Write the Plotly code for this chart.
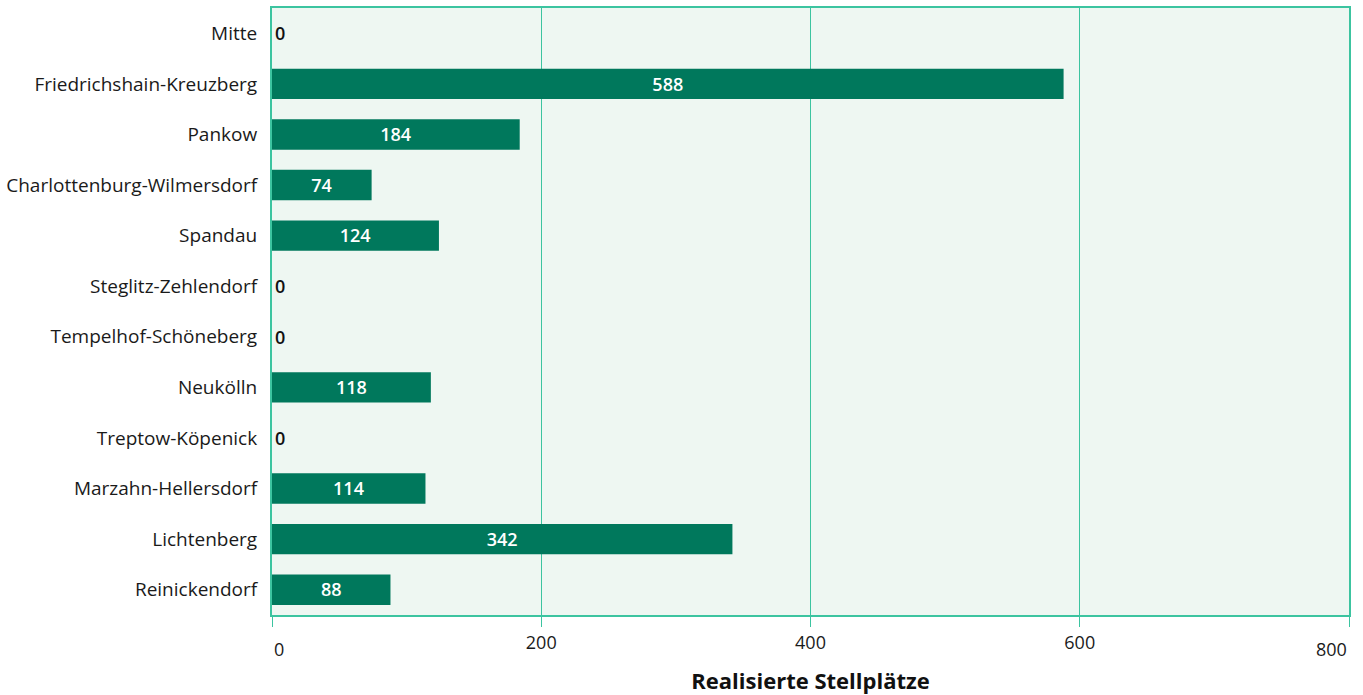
import plotly.graph_objects as go

bezirke = [
    "Mitte", "Friedrichshain-Kreuzberg", "Pankow", "Charlottenburg-Wilmersdorf",
    "Spandau", "Steglitz-Zehlendorf", "Tempelhof-Schöneberg", "Neukölln",
    "Treptow-Köpenick", "Marzahn-Hellersdorf", "Lichtenberg", "Reinickendorf",
]
stellplaetze = [0, 588, 184, 74, 124, 0, 0, 118, 0, 114, 342, 88]
x_ticks = [0, 200, 400, 600, 800]

FONT = "Open Sans"
BAR = "#00785c"
LINE = "#3cc4a0"
TEXT = "#1a1a1a"

positions = ["inside" if v > 0 else "outside" for v in stellplaetze]

fig = go.Figure(go.Bar(
    x=stellplaetze,
    y=bezirke,
    orientation="h",
    marker=dict(color=BAR, line=dict(width=0)),
    width=0.6,
    text=[str(v) for v in stellplaetze],
    textposition=positions,
    insidetextanchor="middle",
    textangle=0,
    cliponaxis=False,
    insidetextfont=dict(family=FONT, size=20, color="white", weight=600),
    outsidetextfont=dict(family=FONT, size=20, color="#111111", weight=600),
))

# inner tick labels are centred; the two end labels sit flush with the frame
fig.update_xaxes(
    range=[0, 800],
    automargin=False,
    tickvals=x_ticks,
    ticktext=["" if t in (x_ticks[0], x_ticks[-1]) else str(t) for t in x_ticks],
    showgrid=True, gridcolor=LINE, gridwidth=1,
    zeroline=False,
    showline=True, linecolor=LINE, linewidth=2, mirror=True,
    ticks="outside", ticklen=10, tickcolor=LINE, tickwidth=1,
    tickfont=dict(family=FONT, size=18, color=TEXT),
    title=dict(text="<b>Realisierte Stellplätze</b>",
               font=dict(family=FONT, size=22, color="#111111"), standoff=25),
)
for t, anchor in ((x_ticks[0], "left"), (x_ticks[-1], "right")):
    fig.add_annotation(
        x=t, xref="x", y=0, yref="paper", yshift=-34,
        text=str(t), showarrow=False, xanchor=anchor, yanchor="middle",
        font=dict(family=FONT, size=18, color=TEXT),
    )

fig.update_yaxes(
    autorange="reversed",
    automargin=False,
    showgrid=False,
    showline=True, linecolor=LINE, linewidth=2, mirror=True,
    ticks="", ticklabelstandoff=9,
    tickfont=dict(family=FONT, size=19, color=TEXT),
)

fig.update_layout(
    width=1363, height=695,
    margin=dict(l=272, r=14, t=8, b=80),
    paper_bgcolor="white",
    plot_bgcolor="#eef7f2",
    showlegend=False,
    bargap=0.4,
    font=dict(family=FONT, size=17, color=TEXT),
    uniformtext=dict(minsize=10, mode="show"),
)

fig.write_html("out.html")
